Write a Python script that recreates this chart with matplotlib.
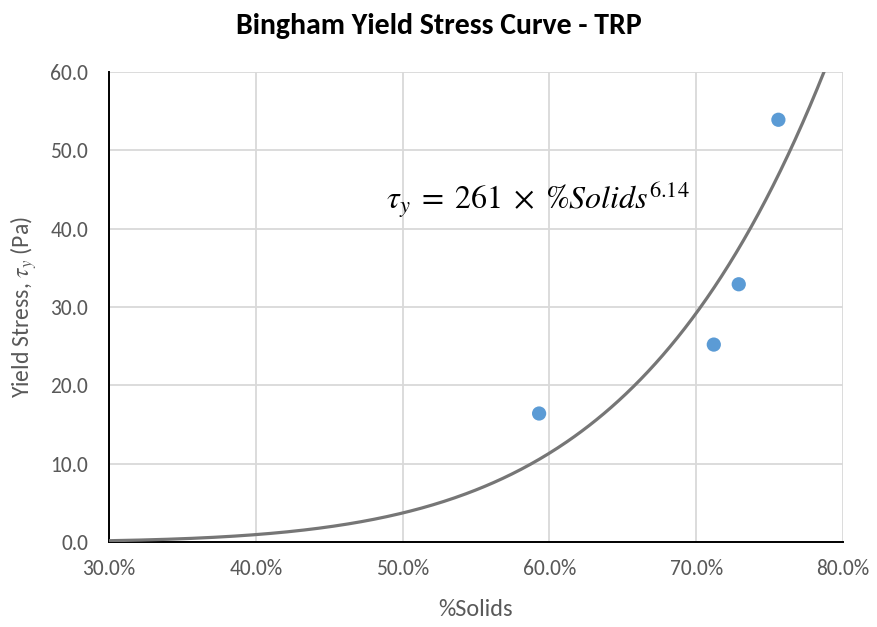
import numpy as np
import matplotlib
import matplotlib.pyplot as plt
from matplotlib import font_manager
from matplotlib.ticker import PercentFormatter, MultipleLocator

# measured points (%Solids as fraction, yield stress in Pa)
solids = [0.593, 0.712, 0.729, 0.756]
yield_stress = [16.4, 25.2, 32.9, 53.9]

# power-law fit shown on the chart: tau_y = a * solids^b
fit_a = 261
fit_b = 6.14

# pick a Calibri-like font if one is around
names = {f.name for f in font_manager.fontManager.ttflist}
base_font = 'DejaVu Sans'
for cand in ['Carlito', 'Lato', 'Liberation Sans']:
    if cand in names:
        base_font = cand
        break
plt.rcParams['font.family'] = [base_font, 'DejaVu Sans']
plt.rcParams['mathtext.fontset'] = 'stix'

fig = plt.figure(figsize=(8.77, 6.27), dpi=100)
ax = fig.add_axes([0.1243, 0.1356, 0.8369, 0.7496])

xs = np.linspace(0.30, 0.80, 400)
ax.plot(xs, fit_a * xs ** fit_b, color='#767676', lw=2.3, zorder=3)
ax.scatter(solids, yield_stress, s=105, color='#5b9bd5', edgecolors='none', zorder=4)

ax.set_xlim(0.30, 0.80)
ax.set_ylim(0, 60)
ax.xaxis.set_major_locator(MultipleLocator(0.10))
ax.yaxis.set_major_locator(MultipleLocator(10))
ax.xaxis.set_major_formatter(PercentFormatter(xmax=1, decimals=1))
ax.yaxis.set_major_formatter(matplotlib.ticker.FormatStrFormatter('%.1f'))

ax.grid(True, color='#d9d9d9', lw=1.3, zorder=0)
ax.set_axisbelow(True)
for side in ['top', 'right']:
    ax.spines[side].set_visible(False)
for side in ['left', 'bottom']:
    ax.spines[side].set_color('black')
    ax.spines[side].set_linewidth(1.4)
    ax.spines[side].set_zorder(2)

ax.tick_params(axis='both', length=0, labelsize=15.5, labelcolor='#595959')
ax.tick_params(axis='y', pad=15)
ax.tick_params(axis='x', pad=12)

ax.set_xlabel('%Solids', fontsize=17.5, color='#595959', labelpad=15)
ax.set_ylabel(r'Yield Stress, $\tau_y$ (Pa)', fontsize=17, color='#595959', labelpad=8)

ax.text(0.489, 43.7, r'$\tau_y\;=\;261\;\times\;\%Solids^{6.14}$', fontsize=23,
        color='black', va='center', ha='left', zorder=5)

fig.suptitle('Bingham Yield Stress Curve - TRP', x=0.5, y=0.98,
             fontsize=21.5, fontweight='bold', va='top')

fig.savefig('out.png', dpi=100)
